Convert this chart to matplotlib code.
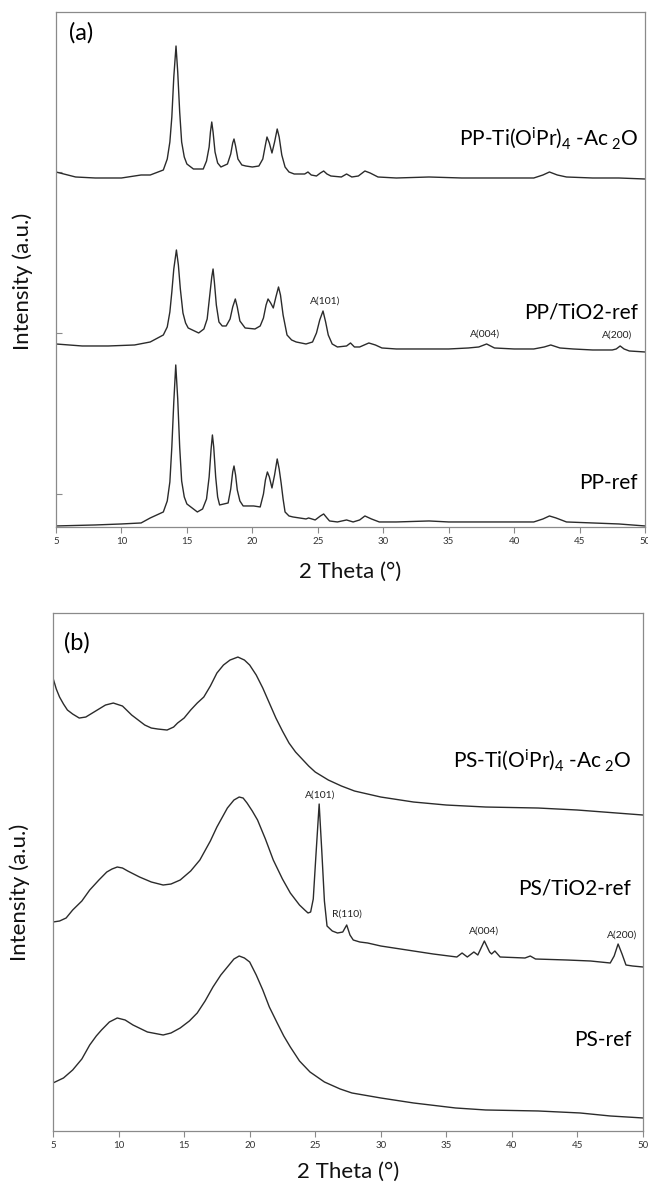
import matplotlib
matplotlib.use('Agg')
import matplotlib.pyplot as plt

plt.rcParams['font.family'] = ['Lato', 'DejaVu Sans']
plt.rcParams['mathtext.fontset'] = 'custom'
plt.rcParams['mathtext.rm'] = 'Lato'

# ---------------- panel (a): PP samples ----------------
pp_ti_x = [5, 6.5, 8, 10, 11.5, 12.2, 13.2, 13.5, 13.7, 13.85, 14.0, 14.17, 14.3, 14.45, 14.6,
           14.8, 15.0, 15.5, 16.25, 16.5, 16.7, 16.8, 16.9, 17.0, 17.15, 17.35, 17.6, 18.1,
           18.35, 18.5, 18.6, 18.72, 18.9, 19.2, 19.5, 20.0, 20.5, 20.8, 21.0, 21.12, 21.3,
           21.5, 21.7, 21.9, 22.05, 22.25, 22.5, 22.8, 23.2, 24.0, 24.25, 24.5, 24.9, 25.2,
           25.45, 25.7, 26.0, 26.8, 27.2, 27.6, 28.1, 28.6, 29.0, 29.6, 31, 33.5, 36, 38, 40,
           41.5, 42.2, 42.7, 43.3, 44, 46, 48, 50]
pp_ti_y = [355, 350, 349, 349, 352, 352, 357, 368, 385, 410, 450, 481, 455, 415, 385,
           370, 363, 358, 358, 366, 380, 395, 405, 395, 375, 364, 360, 363,
           373, 384, 388, 381, 368, 362, 361, 360, 361, 368, 382, 390, 384,
           374, 385, 398, 390, 372, 360, 355, 353, 353, 355, 352, 351, 354,
           356, 353, 351, 350, 353, 350, 351, 356, 354, 350, 349, 350, 349, 349, 349,
           349, 352, 355, 352, 350, 349, 349, 348]

pp_tio2_x = [5, 7, 9, 11, 12.2, 13.2, 13.5, 13.7, 13.85, 14.0, 14.2, 14.35, 14.5, 14.7, 14.9,
             15.1, 15.9, 16.3, 16.55, 16.75, 16.9, 17.0, 17.1, 17.25, 17.45, 17.7, 18.0, 18.3,
             18.5, 18.7, 18.85, 19.05, 19.45, 20.2, 20.6, 20.85, 21.05, 21.2, 21.4, 21.6, 21.8,
             22.0, 22.15, 22.35, 22.65, 23.0, 23.35, 24.1, 24.6, 24.9, 25.15, 25.4, 25.6, 25.8,
             26.1, 26.5, 27.2, 27.5, 27.8, 28.2, 28.9, 29.4, 29.9, 31, 33, 35, 36.5, 37.3, 37.9,
             38.5, 40, 41.5, 42.3, 42.8, 43.5, 44.5, 46, 47.5, 47.8, 48.1, 48.4, 48.8, 50]
pp_tio2_y = [183, 181, 181, 182, 185, 192, 200, 215, 235, 258, 277, 262, 238, 214, 204,
             199, 194, 198, 208, 232, 250, 258, 245, 222, 205, 201, 201, 208,
             220, 228, 220, 206, 199, 198, 201, 209, 222, 228, 224, 219, 230,
             240, 232, 212, 192, 187, 185, 183, 185, 194, 207, 216, 205, 192,
             183, 180, 181, 184, 180, 180, 184, 182, 179, 178, 178, 178, 179, 180, 183,
             179, 178, 178, 180, 182, 179, 178, 177, 177, 178, 181, 178, 176, 175]

pp_ref_x = [5, 8, 10, 11.5, 12.2, 13.2, 13.5, 13.7, 13.85, 14.0, 14.15, 14.3, 14.45, 14.6,
            14.8, 15.0, 15.8, 16.2, 16.5, 16.7, 16.85, 16.95, 17.05, 17.2, 17.35, 17.5, 18.15,
            18.35, 18.5, 18.6, 18.72, 18.85, 19.05, 19.3, 20.1, 20.6, 20.85, 21.0, 21.15, 21.3,
            21.5, 21.7, 21.9, 22.05, 22.2, 22.35, 22.5, 22.8, 23.1, 24.1, 24.3, 24.8, 25.2,
            25.45, 25.7, 25.9, 26.5, 27.2, 27.7, 28.2, 28.6, 29.1, 29.7, 31, 33.5, 35, 38, 40,
            41.5, 42.2, 42.7, 43.2, 44, 46, 48, 50]
pp_ref_y = [1, 2, 3, 4, 9, 15, 26, 45, 80, 125, 162, 128, 80, 46,
            30, 23, 15, 18, 28, 50, 78, 92, 80, 50, 30, 22, 24,
            38, 55, 61, 52, 37, 26, 21, 21, 20, 33, 47, 55, 50,
            39, 52, 68, 58, 44, 28, 15, 11, 10, 8, 9, 7, 11,
            13, 9, 6, 5, 7, 5, 7, 11, 8, 5, 5, 6, 5, 5, 5,
            5, 8, 11, 9, 5, 4, 3, 1]

# ---------------- panel (b): PS samples ----------------
ps_ti_x = [5.0, 5.25, 5.5, 5.8, 6.1, 6.5, 7.0, 7.5, 8.0, 8.5, 9.0, 9.6, 10.3, 11.0, 11.5,
           12.0, 12.5, 13.0, 13.7, 14.2, 14.5, 15.0, 15.5, 16.0, 16.5, 17.0, 17.5, 18.0,
           18.5, 19.1, 19.6, 20.0, 20.5, 21.0, 21.5, 22.0, 22.5, 23.0, 23.5, 24.0, 24.5,
           25.0, 26.0, 27.0, 28.0, 29.0, 30.0, 32.5, 35.0, 38.0, 42.0, 45.0, 48.0, 50.0]
ps_ti_y = [453, 442, 434, 427, 421, 417, 413, 414, 418, 422, 426, 428, 425, 416, 411,
           406, 403, 402, 401, 404, 408, 413, 421, 428, 434, 445, 458, 466,
           471, 474, 471, 466, 456, 443, 428, 413, 400, 388, 379, 372, 365,
           359, 351, 345, 340, 337, 334, 329, 326, 324, 323, 321, 318, 316]

ps_tio2_x = [5.0, 5.5, 6.0, 6.5, 7.2, 7.8, 8.5, 9.1, 9.5, 9.9, 10.3, 10.7, 11.6, 12.5, 13.4,
             14.0, 14.7, 15.5, 16.2, 17.0, 17.5, 18.3, 18.8, 19.2, 19.5, 19.8, 20.2, 20.6,
             21.2, 21.8, 22.5, 23.1, 23.8, 24.2, 24.45, 24.65, 24.85, 25.05, 25.3, 25.5, 25.7,
             25.9, 26.3, 26.7, 27.1, 27.4, 27.65, 27.9, 28.4, 29.0, 30.0, 31.5, 33.0, 34.0,
             35.8, 36.2, 36.6, 37.1, 37.4, 37.9, 38.3, 38.45, 38.7, 39.1, 41.0, 41.4, 41.8,
             44.2, 46.0, 47.5, 47.8, 48.1, 48.4, 48.7, 49.2, 50.0]
ps_tio2_y = [209, 210, 213, 221, 230, 241, 251, 259, 262, 264, 263, 260, 254, 249, 246,
             247, 251, 260, 271, 290, 304, 323, 331, 334, 333, 328, 320, 311,
             292, 271, 252, 238, 226, 221, 218, 219, 232, 275, 327, 280, 230,
             205, 200, 198, 199, 206, 196, 191, 189, 188, 185, 182, 179, 177,
             174, 178, 174, 179, 176, 190, 179, 177, 180, 174, 173, 175, 172,
             171, 170, 168, 175, 187, 177, 166, 165, 164]

ps_ref_x = [5.0, 5.8, 6.5, 7.2, 7.8, 8.3, 8.7, 9.3, 9.9, 10.5, 11.1, 12.2, 13.4, 14.0, 14.7,
            15.4, 16.0, 16.6, 17.2, 17.8, 18.3, 18.8, 19.2, 19.6, 20.0, 20.5, 21.0, 21.5,
            22.1, 22.6, 23.1, 23.8, 24.6, 25.7, 26.9, 27.8, 30.0, 32.5, 35.7, 38.0, 42.0,
            45.2, 47.5, 50.0]
ps_ref_y = [48, 53, 61, 72, 86, 95, 101, 109, 113, 111, 106, 99, 96, 98, 103,
            110, 118, 130, 144, 156, 164, 172, 175, 173, 169, 156, 141, 124,
            108, 95, 84, 70, 59, 49, 42, 38, 33, 28, 23, 21, 20,
            18, 15, 13]

x_ticks = [5, 10, 15, 20, 25, 30, 35, 40, 45, 50]

# curve labels: (text, y position in axes fraction)
pp_labels = [(r'PP-Ti(O$\mathregular{^i}$Pr)$\mathregular{_4}$ -Ac$\mathregular{\,_2}$O', 0.755),
             ('PP/TiO2-ref', 0.417),
             ('PP-ref', 0.085)]
ps_labels = [(r'PS-Ti(O$\mathregular{^i}$Pr)$\mathregular{_4}$ -Ac$\mathregular{\,_2}$O', 0.716),
             ('PS/TiO2-ref', 0.469),
             ('PS-ref', 0.176)]

# reflection labels: (text, 2theta, intensity)
pp_peaks = [('A(101)', 25.55, 226), ('A(004)', 37.8, 193), ('A(200)', 47.9, 192)]
ps_peaks = [('A(101)', 25.4, 336), ('R(110)', 27.45, 217),
            ('A(004)', 37.9, 200), ('A(200)', 48.4, 196)]

LINE = '#2b2b2b'
FRAME = '#8a8a8a'

fig = plt.figure(figsize=(6.48, 11.89), dpi=100)
ax_a = fig.add_axes([0.0864, 0.5568, 0.909, 0.4331])
ax_b = fig.add_axes([0.0818, 0.0488, 0.9105, 0.4356])


def style_axes(ax, ymax, ylab_y):
    ax.set_xlim(5, 50)
    ax.set_ylim(0, ymax)
    ax.set_xticks(x_ticks)
    ax.tick_params(axis='x', direction='out', length=4, width=0.8, color=FRAME,
                   labelsize=7, labelcolor='#333333', pad=3)
    ax.tick_params(axis='y', direction='in', length=4, width=0.8, color=FRAME,
                   labelleft=False)
    for sp in ax.spines.values():
        sp.set_color(FRAME)
        sp.set_linewidth(0.9)
    ax.set_xlabel('2 Theta (°)', fontsize=16, color='#111111')
    ax.xaxis.label.set_va('center')
    ax.set_ylabel('Intensity (a.u.)', fontsize=16, color='#111111')
    ax.yaxis.label.set_va('center')
    ax.yaxis.set_label_coords(-0.056, ylab_y)


# panel (a)
for xs, ys in [(pp_ti_x, pp_ti_y), (pp_tio2_x, pp_tio2_y), (pp_ref_x, pp_ref_y)]:
    ax_a.plot(xs, ys, color=LINE, lw=1.0, solid_joinstyle='round')
style_axes(ax_a, 515, 0.476)
ax_a.set_yticks([33, 194, 355])
ax_a.xaxis.set_label_coords(0.5, -0.088)
ax_a.text(0.042, 0.959, '(a)', transform=ax_a.transAxes, fontsize=17,
          ha='center', va='center')
for txt, yy in pp_labels:
    ax_a.text(0.988, yy, txt, transform=ax_a.transAxes, fontsize=15,
              ha='right', va='center')
for txt, px, py in pp_peaks:
    ax_a.text(px, py, txt, fontsize=7.5, ha='center', va='center', color='#222222')

# panel (b)
for xs, ys in [(ps_ti_x, ps_ti_y), (ps_tio2_x, ps_tio2_y), (ps_ref_x, ps_ref_y)]:
    ax_b.plot(xs, ys, color=LINE, lw=1.0, solid_joinstyle='round')
style_axes(ax_b, 518, 0.46)
ax_b.set_yticks([])
ax_b.xaxis.set_label_coords(0.5, -0.079)
ax_b.text(0.041, 0.942, '(b)', transform=ax_b.transAxes, fontsize=17,
          ha='center', va='center')
for txt, yy in ps_labels:
    ax_b.text(0.98, yy, txt, transform=ax_b.transAxes, fontsize=15,
              ha='right', va='center')
for txt, px, py in ps_peaks:
    ax_b.text(px, py, txt, fontsize=7.5, ha='center', va='center', color='#222222')

fig.savefig('out.png', dpi=100)
plt.close(fig)
